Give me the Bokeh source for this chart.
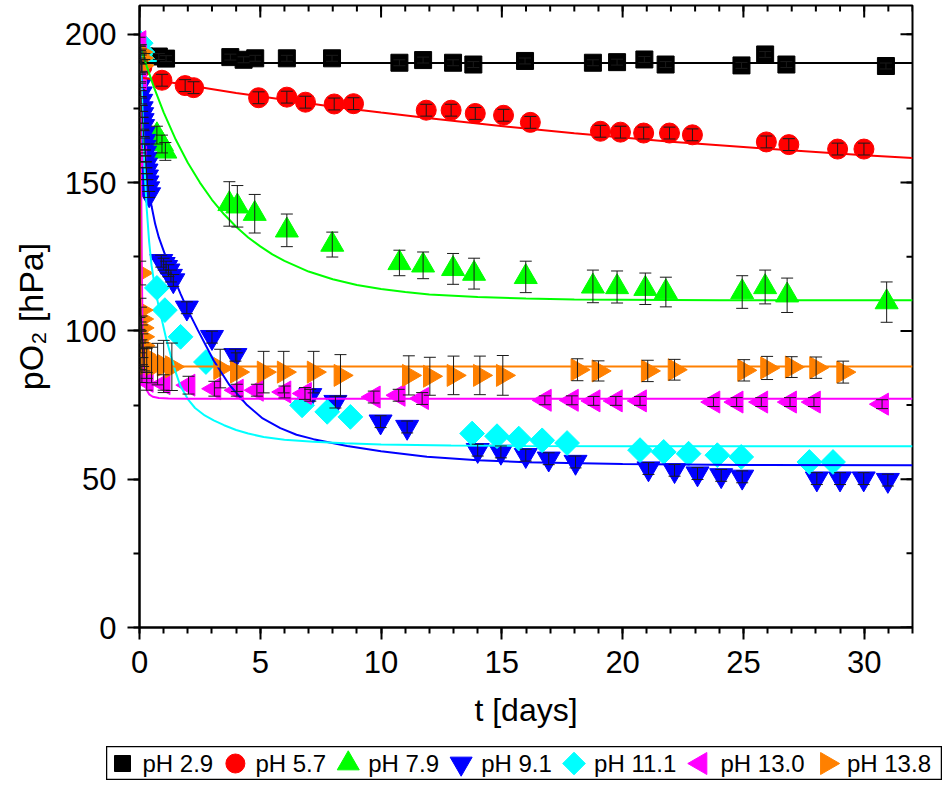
from bokeh.plotting import figure
from bokeh.models import Range1d, FixedTicker, Whisker, TeeHead, ColumnDataSource, Spacer
from bokeh.layouts import column, row
from bokeh.embed import file_html
from bokeh.resources import INLINE
from bokeh.core.properties import value

# ---------------- data ----------------
legend_labels = ["pH 2.9", "pH 5.7", "pH 7.9", "pH 9.1", "pH 11.1", "pH 13.0", "pH 13.8"]
x_ticks = [0, 5, 10, 15, 20, 25, 30]
y_ticks = [0, 50, 100, 150, 200]
x_minor = list(range(0, 33))
y_minor = [0, 25, 50, 75, 100, 125, 150, 175, 200]
x_lim = (0.0, 32.0)
y_lim = (0.0, 209.7)

# pH 2.9
t_ph29 = [0.05, 0.2, 0.8, 1.1, 3.76, 4.31, 4.79, 6.1, 7.97, 10.76, 11.74, 12.98, 13.82, 15.96,
          18.77, 19.77, 20.9, 21.78, 24.92, 25.9, 26.78, 30.9]
o2_ph29 = [194.0, 192.5, 192.5, 191.8, 192.3, 191.4, 191.9, 191.9, 191.9, 190.4, 191.3, 190.4, 189.8, 191.0,
           190.4, 190.6, 191.5, 189.8, 189.5, 193.2, 189.8, 189.3]
err_ph29 = [1.0, 1.0, 1.0, 1.0, 1.0, 1.0, 1.0, 1.0, 1.0, 1.0, 1.0, 1.0, 1.0, 1.0,
            1.0, 1.0, 1.0, 1.0, 1.0, 1.0, 1.0, 1.0]
fit_t_ph29 = [0.0, 32.0]
fit_ph29 = [190.3, 190.3]

# pH 5.7
t_ph57 = [0.1, 0.93, 1.89, 2.24, 4.93, 6.1, 6.87, 8.06, 8.86, 11.87, 12.9, 13.9, 15.07, 16.18,
          19.08, 19.91, 20.87, 21.94, 22.89, 25.95, 26.88, 28.9, 29.99]
o2_ph57 = [189.0, 184.5, 182.7, 182.0, 178.6, 178.8, 177.1, 176.5, 176.6, 174.4, 174.4, 173.3, 172.7, 170.3,
           167.3, 167.0, 166.7, 166.7, 166.1, 163.7, 162.8, 161.3, 161.3]
err_ph57 = [2.0, 2.0, 2.0, 2.0, 2.0, 2.0, 2.0, 2.0, 2.0, 2.0, 2.0, 2.0, 2.0, 2.0,
            2.0, 2.0, 2.0, 2.0, 2.0, 2.0, 2.0, 2.0, 2.0]
fit_t_ph57 = [0, 2, 4, 6, 8, 10, 12, 14, 16, 18, 20, 22, 24, 26, 28, 30, 32]
fit_ph57 = [185.5, 182.8, 180.2, 177.9, 175.6, 173.6, 171.7, 169.9, 168.2, 166.6, 165.2, 163.8, 162.6,
            161.4, 160.3, 159.2, 158.3]

# pH 7.9
t_ph79 = [0.05, 0.72, 0.93, 1.07, 3.72, 4.05, 4.77, 6.1, 7.98, 10.76, 11.74, 12.98, 13.85, 15.99,
          18.77, 19.77, 20.94, 21.79, 24.95, 25.9, 26.81, 30.93]
o2_ph79 = [195.0, 166.0, 163.0, 160.5, 142.8, 142.0, 139.5, 133.9, 129.1, 122.9, 122.1, 120.9, 119.3, 118.2,
           115.0, 114.8, 114.2, 113.1, 113.1, 114.8, 112.0, 109.7]
err_ph79 = [1.5, 3.0, 3.0, 3.0, 7.5, 7.0, 6.5, 5.5, 4.2, 4.3, 4.5, 5.2, 5.2, 5.3,
            5.5, 5.4, 5.3, 5.0, 5.5, 5.7, 5.8, 6.8]
fit_t_ph79 = [0.1, 0.3, 0.6, 1.0, 1.5, 2.0, 2.5, 3.0, 3.5, 4.0, 4.5, 5.0, 5.5, 6.0, 7.0, 8.0, 9.0, 10.0,
              11.0, 12.0, 14.0, 16.0, 18.0, 20.0, 24.0, 28.0, 32.0]
fit_ph79 = [194.3, 189.2, 182.1, 173.7, 164.5, 156.7, 150.0, 144.2, 139.3, 135.1, 131.5, 128.5, 125.8,
            123.6, 120.0, 117.4, 115.5, 114.1, 113.1, 112.3, 111.4, 110.9, 110.6, 110.5, 110.3, 110.3, 110.3]

# pH 9.1
t_ph91 = [0.03, 0.05, 0.07, 0.09, 0.11, 0.13, 0.15, 0.17, 0.19, 0.21, 0.23, 0.25, 0.27, 0.29, 0.31, 0.33,
          0.36, 0.40, 0.9, 1.0, 1.1, 1.2, 1.3, 1.4, 1.96, 3.0, 3.97, 7.07, 8.11, 9.98, 11.08, 14.0, 14.96,
          15.99, 16.94, 18.05, 21.07, 22.15, 23.1, 24.08, 24.95, 28.04, 29.0, 29.98, 30.98]
o2_ph91 = [183.0, 180.0, 177.5, 175.0, 173.0, 171.0, 169.0, 166.5, 164.0, 162.0, 160.0, 158.0, 156.0, 154.0,
           152.0, 150.0, 148.0, 146.0, 123.5, 122.5, 121.5, 120.3, 118.5, 117.0, 107.8, 97.9, 91.8, 78.3, 76.0,
           69.4, 67.6, 59.8, 59.2, 58.1, 56.9, 55.8, 53.6, 53.0, 51.9, 51.3, 50.8, 50.2, 50.2, 50.2, 49.7]
err_ph91 = [1.0, 1.0, 1.0, 1.0, 1.0, 1.0, 1.0, 1.0, 1.0, 1.0, 1.0, 1.0, 1.0, 1.0, 1.0, 1.0, 1.0, 1.0,
            2.0, 2.0, 2.0, 2.0, 2.0, 2.0, 2.0, 2.0, 2.0, 2.0, 2.0, 2.0, 2.0, 2.0, 2.0, 2.0, 2.0, 2.0,
            2.0, 2.0, 2.0, 2.0, 2.0, 2.0, 2.0, 2.0, 2.0]
fit_t_ph91 = [0.03, 0.08, 0.15, 0.22, 0.3, 0.4, 0.5, 0.65, 0.8, 1.0, 1.34, 1.7, 2.0, 2.4, 3.07, 3.7, 4.45,
              5.1, 5.83, 6.5, 7.2, 8.6, 10.0, 11.9, 14.0, 16.0, 20.0, 25.0, 32.0]
fit_ph91 = [196.0, 188.0, 175.0, 163.0, 154.0, 147.0, 142.0, 136.0, 131.5, 127.0, 119.5, 112.5, 107.0,
            100.5, 90.0, 82.0, 75.0, 70.5, 67.2, 65.0, 63.5, 61.2, 59.4, 57.6, 56.4, 55.7, 55.1, 54.8, 54.7]

# pH 11.1
t_ph111 = [0.05, 0.12, 0.2, 0.72, 1.05, 1.7, 2.75, 6.73, 7.77, 8.73, 13.77, 14.8, 15.7, 16.67, 17.7,
           20.72, 21.7, 22.73, 23.92, 24.91, 27.73, 28.71]
o2_ph111 = [197.0, 194.0, 191.0, 114.5, 107.0, 98.0, 89.5, 74.9, 72.7, 71.0, 65.4, 64.5, 63.7, 63.1, 62.2,
            59.8, 59.2, 58.6, 58.1, 57.5, 55.8, 55.8]
fit_t_ph111 = [0.03, 0.08, 0.15, 0.22, 0.3, 0.4, 0.5, 0.65, 0.8, 0.93, 1.1, 1.3, 1.5, 1.69, 2.0, 2.3, 2.7,
               3.07, 3.5, 4.0, 4.5, 5.14, 6.0, 7.2, 8.5, 10.0, 12.9, 16.0, 20.0, 32.0]
fit_ph111 = [197.0, 185.0, 168.0, 153.0, 141.0, 130.0, 122.0, 114.0, 108.0, 103.6, 97.5, 91.5, 86.0, 81.5,
             77.0, 74.0, 71.5, 69.8, 68.2, 66.6, 65.4, 64.2, 63.3, 62.6, 62.1, 61.7, 61.4, 61.2, 61.1, 61.1]

# pH 13.0
t_ph130 = [0.0, 0.02, 0.0, 0.02, 0.03, 0.0, 0.02, 0.03, 0.05, 0.1, 0.3, 1.0, 2.03, 3.1, 4.03, 4.86, 6.0,
           6.85, 9.7, 10.73, 11.7, 16.78, 17.9, 18.8, 19.72, 20.72, 23.76, 24.72, 25.74, 26.93, 27.92, 30.74]
o2_ph130 = [197.5, 193.0, 188.5, 185.0, 158.5, 102.5, 97.9, 94.6, 89.0, 85.6, 83.0, 82.2, 81.7, 80.5, 80.0,
            80.0, 79.4, 78.9, 77.7, 78.3, 77.2, 76.6, 76.6, 76.4, 76.4, 76.4, 76.0, 76.0, 76.0, 76.0, 76.0, 75.3]
err_ph130 = [1.5, 1.5, 1.5, 1.5, 1.5, 2.0, 2.0, 2.0, 2.0, 3.0, 3.0, 3.0, 3.0, 2.5, 2.0, 2.0, 2.0,
             2.0, 2.0, 2.0, 2.0, 1.5, 1.5, 1.5, 1.5, 1.5, 1.5, 1.5, 1.5, 1.5, 1.5, 1.5]
fit_t_ph130 = [0.0, 0.04, 0.07, 0.1, 0.13, 0.17, 0.22, 0.3, 0.4, 0.55, 0.8, 1.2, 2.0, 32.0]
fit_ph130 = [197.0, 180.0, 150.0, 118.0, 98.0, 88.0, 83.0, 80.0, 78.6, 77.8, 77.4, 77.2, 77.1, 77.1]

# pH 13.8
t_ph138 = [0.02, 0.05, 0.08, 0.03, 0.04, 0.06, 0.08, 0.1, 0.12, 0.15, 0.2, 0.3, 0.5, 0.75, 1.0, 1.34,
           3.34, 4.03, 5.14, 5.97, 7.21, 8.32, 11.15, 12.02, 13.0, 14.09, 15.04,
           18.13, 19.0, 21.04, 22.15, 25.03, 25.98, 27.0, 28.01, 29.13]
o2_ph138 = [194.0, 192.0, 189.5, 119.5, 107.0, 104.0, 101.0, 98.0, 95.0, 92.0, 90.5, 89.0, 88.5, 88.8, 88.4,
            87.9, 87.3, 86.1, 86.1, 86.1, 86.1, 85.0, 85.0, 84.7, 85.0, 85.0, 85.0,
            86.9, 86.5, 86.5, 86.9, 86.7, 87.5, 87.8, 87.6, 86.1]
err_ph138 = [2.0, 2.0, 2.0, 4.0, 4.0, 4.0, 4.0, 4.0, 4.0, 4.0, 4.0, 5.0, 6.0, 7.0, 8.4, 8.0,
             6.5, 6.5, 7.0, 7.0, 7.0, 7.0, 6.6, 6.4, 6.5, 6.5, 6.7,
             3.7, 3.4, 3.6, 3.5, 3.6, 3.9, 3.5, 3.6, 3.7]
fit_t_ph138 = [0.0, 0.01, 0.02, 0.03, 0.045, 0.06, 0.08, 0.11, 0.15, 0.22, 0.35, 0.6, 1.0, 32.0]
fit_ph138 = [196.0, 180.0, 155.0, 128.0, 108.0, 98.0, 93.0, 90.5, 89.3, 88.6, 88.2, 88.1, 88.0, 88.0]

# ---------------- styles / layout ----------------
FONT = "Liberation Sans"
HALF_PI = 1.5707963
QUARTER_PI = 0.7853982
styles = [  # color, marker, size, angle
    ("#000000", "square", 17, 0.0),
    ("#FF0000", "circle", 20, 0.0),
    ("#00FF00", "triangle", 23, 0.0),
    ("#0000FF", "inverted_triangle", 23, 0.0),
    ("#00FFFF", "square", 17.5, QUARTER_PI),
    ("#FF00FF", "triangle", 22, HALF_PI),
    ("#FF8000", "triangle", 22, -HALF_PI),
]
data = [
    (t_ph29, o2_ph29, err_ph29, fit_t_ph29, fit_ph29),
    (t_ph57, o2_ph57, err_ph57, fit_t_ph57, fit_ph57),
    (t_ph79, o2_ph79, err_ph79, fit_t_ph79, fit_ph79),
    (t_ph91, o2_ph91, err_ph91, fit_t_ph91, fit_ph91),
    (t_ph111, o2_ph111, None, fit_t_ph111, fit_ph111),
    (t_ph130, o2_ph130, err_ph130, fit_t_ph130, fit_ph130),
    (t_ph138, o2_ph138, err_ph138, fit_t_ph138, fit_ph138),
]

FIG_W, FIG_H = 945, 746
B_LEFT, B_RIGHT, B_TOP, B_BOTTOM = 139, 33, 5, 119
FRAME_W = FIG_W - B_LEFT - B_RIGHT
FRAME_H = FIG_H - B_TOP - B_BOTTOM
MAJOR_LEN, MINOR_LEN = 12, 6

p = figure(width=FIG_W, height=FIG_H, x_range=Range1d(*x_lim), y_range=Range1d(*y_lim),
           output_backend="svg", toolbar_location=None,
           min_border_left=B_LEFT, min_border_right=B_RIGHT, min_border_top=B_TOP,
           min_border_bottom=B_BOTTOM,
           x_axis_label="t [days]", y_axis_label="pO\u2082 [hPa]")
p.grid.visible = False
p.outline_line_color = "black"
p.outline_line_width = 2
p.background_fill_color = "white"
p.border_fill_color = "white"

for ax, tk, mn in ((p.xaxis[0], x_ticks, x_minor), (p.yaxis[0], y_ticks, y_minor)):
    ax.ticker = FixedTicker(ticks=tk, minor_ticks=mn)
    ax.axis_line_width = 2
    ax.axis_line_color = "black"
    ax.major_tick_line_width = 2
    ax.minor_tick_line_width = 2
    ax.major_tick_line_color = "black"
    ax.minor_tick_line_color = "black"
    ax.major_tick_out, ax.major_tick_in = MAJOR_LEN, 0
    ax.minor_tick_out, ax.minor_tick_in = MINOR_LEN, 0
    ax.major_label_text_font = FONT
    ax.major_label_text_font_size = "31px"
    ax.major_label_text_color = "black"
    ax.axis_label_text_font = FONT
    ax.axis_label_text_font_style = "normal"
    ax.axis_label_text_color = "black"
p.xaxis[0].axis_label_text_font_size = "32px"
p.yaxis[0].axis_label_text_font_size = "34px"
p.xaxis[0].major_label_standoff = 11
p.xaxis[0].axis_label_standoff = 16
p.yaxis[0].major_label_standoff = 11
p.yaxis[0].axis_label_standoff = 12

# inward ticks on the top and right frame edges (mirror of the tick arrays)
px_per_x = FRAME_W / (x_lim[1] - x_lim[0])
px_per_y = FRAME_H / (y_lim[1] - y_lim[0])
top_x = x_minor + x_ticks
top_len = [MINOR_LEN] * len(x_minor) + [MAJOR_LEN] * len(x_ticks)
p.segment(x0=top_x, y0=[y_lim[1]] * len(top_x), x1=top_x,
          y1=[y_lim[1] - L / px_per_y for L in top_len], line_color="black", line_width=2)
right_y = y_minor + y_ticks
right_len = [MINOR_LEN] * len(y_minor) + [MAJOR_LEN] * len(y_ticks)
p.segment(x0=[x_lim[1]] * len(right_y), y0=right_y, x1=[x_lim[1] - L / px_per_x for L in right_len],
          y1=right_y, line_color="black", line_width=2)

# markers
for (t, v, e, ft, fv), (col, mk, sz, ang) in zip(data, styles):
    p.scatter(x=t, y=v, marker=mk, size=sz, angle=ang, fill_color=col, line_color=col, line_width=1)

# fit lines
for (t, v, e, ft, fv), (col, mk, sz, ang) in zip(data, styles):
    p.line(x=ft, y=fv, line_color=col, line_width=2)

# error bars
for (t, v, e, ft, fv) in data:
    if e is None:
        continue
    src = ColumnDataSource(dict(base=t,
                                upper=[a + b for a, b in zip(v, e)],
                                lower=[a - b for a, b in zip(v, e)]))
    w = Whisker(source=src, base="base", upper="upper", lower="lower", dimension="height",
                line_color="#1a1a1a", line_width=1, level="annotation",
                upper_head=TeeHead(size=12, line_color="#1a1a1a", line_width=1),
                lower_head=TeeHead(size=12, line_color="#1a1a1a", line_width=1))
    p.add_layout(w)

# ---------------- legend (separate small figure below) ----------------
LEG_X, LEG_W, LEG_H = 106, 836, 34
leg = figure(width=LEG_W, height=LEG_H, x_range=Range1d(0, LEG_W), y_range=Range1d(0, LEG_H),
             output_backend="svg", toolbar_location=None, x_axis_location=None, y_axis_location=None,
             min_border=0)
leg.grid.visible = False
leg.outline_line_color = "black"
leg.outline_line_width = 1.5
leg.background_fill_color = "white"

EM = {"p": 0.556, "H": 0.722, " ": 0.278, ".": 0.278}


def em_width(s):
    return sum(EM.get(c, 0.556) for c in s)


mid = LEG_H / 2
pos = 16.0
marker_x, text_x = [], []
for lab in legend_labels:
    marker_x.append(pos)
    text_x.append(pos + 20)
    pos += 20 + em_width(lab) * 20 * 1.22 + 21

leg_sizes = [16, 19, 22, 22, 16, 22, 22]
for mx, (col, mk, sz, ang), ls in zip(marker_x, styles, leg_sizes):
    leg.scatter(x=[mx], y=[mid], marker=mk, size=ls, angle=ang, fill_color=col, line_color=col)
leg.text(x=text_x, y=[mid] * len(text_x), text=legend_labels, text_font=value(FONT),
         text_font_size="24px", text_baseline="middle", text_align="left", text_color="black")

layout = column(p, row(Spacer(width=LEG_X, height=LEG_H), leg))
open("out.html", "w").write(file_html(layout, INLINE))
